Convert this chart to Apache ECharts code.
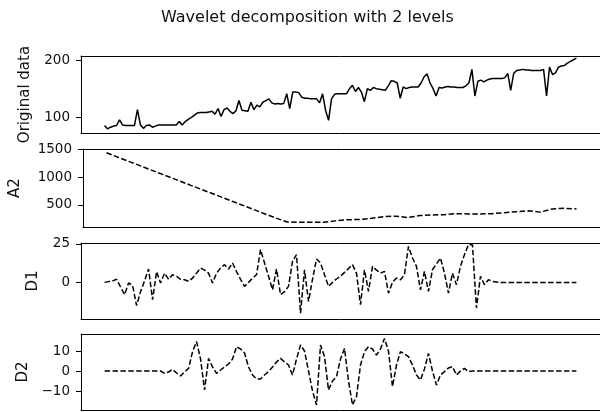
<!DOCTYPE html>
<html>
<head>
<meta charset="utf-8">
<script src="https://cdn.jsdelivr.net/npm/echarts@6/dist/echarts.min.js"></script>
<style>html,body{margin:0;padding:0;background:#fff;}#c{width:600px;height:412px;}</style>
</head>
<body>
<div id="c"></div>
<script>
// ---- Data ----
const titleText = 'Wavelet decomposition with 2 levels';
const panelNames = ['Original data', 'A2', 'D1', 'D2'];

const originalData = [
  85, 79, 82, 84, 85, 95, 86, 85, 85, 85,
  85, 113, 86, 80, 85, 86, 82, 84, 86, 86,
  86, 86, 86, 86, 86, 92, 86, 92, 96, 99,
  103, 107, 108, 108, 108, 109, 110, 105, 115, 101,
  113, 116, 110, 106, 111, 129, 112, 111, 110, 126,
  113, 121, 118, 126, 129, 132, 125, 123, 124, 123,
  124, 141, 115, 144, 144, 143, 135, 133, 133, 132,
  132, 132, 125, 141, 112, 94, 132, 140, 141, 141,
  141, 141, 150, 156, 145, 152, 144, 127, 150, 147,
  152, 150, 149, 148, 147, 155, 164, 163, 160, 133,
  153, 150, 152, 153, 153, 153, 160, 171, 176, 160,
  150, 137, 152, 151, 153, 154, 153, 153, 152, 152,
  152, 155, 160, 184, 137, 163, 165, 162, 165, 167,
  168, 168, 168, 168, 169, 177, 147, 177, 182, 183,
  184, 183, 183, 182, 182, 182, 182, 184, 137, 188,
  175, 178, 188, 190, 191, 195, 198, 201, 204
];

const a2Data = [
  1437, 1353, 1270, 1187, 1103, 1020, 937, 853, 770, 687,
  603, 520, 437, 353, 270, 195, 190, 190, 192, 215,
  235, 240, 262, 290, 300, 275, 310, 320, 325, 345,
  340, 340, 345, 360, 380, 395, 372, 430, 440, 430
];

const d1Data = [
  0, 0.5, 1, 2, -3, -8, -0.4, -2, -15, -6,
  1, 8.7, -11.3, 7, -0.4, 6, 2, 5, 4, 2,
  1.7, 0.7, 2.8, 6, 9.3, 8, 6, -0.4, 6, 9.3,
  11.5, 8.7, 12.6, 7, 2, -2.6, 0, 2.8, 5, 21.3,
  12.6, 4, -4.8, 8.7, -8, -6, -2.6, 13.7, 18, -20,
  8.2, -12.4, 2, 15.2, 12.6, 5, -2.6, 0, 2.2, 4,
  6.5, 9, 11.5, 6, -14.5, 8.2, -5.9, 10.4, 8, 6,
  7.2, -7, 0, 2.8, 1.7, 5, 23.4, 16, 10.4, -4.8,
  7.2, -5.9, 8.2, 12, 15.8, 6, -7, 6, -1.5, 10.4,
  18, 24.5, 24.5, -16.7, 3.9, -1.5, 1.7, 0.6, 0.3, 0,
  0, 0, 0, 0, 0, 0, 0, 0, 0, 0,
  0, 0, 0, 0, 0, 0, 0, 0, 0
];

const d2Data = [
  0, 0, 0, 0, 0, 0, 0, 0, 0, 0,
  0, 0, 0, 0, 0, -1.2, -0.5, 0.8, -1, -2.5,
  -0.5, 1.3, 9.7, 14.7, 6, -9.5, 6.3, 2, -1.2, 0.5,
  2, 3.5, 6, 12.2, 11, 9, 2, -2, -4, -4,
  -2, -0.3, 2, 4.5, 6.3, 4.5, 3, -2, 6, 13,
  10, 0, -10, -17, 13, 7.2, -9.5, -5, -2.8, 6,
  11.3, -5, -17, -12.8, 3, 9.7, 12.2, 11, 8, 11,
  16.3, 10, -7.8, 3, 9.7, 8.5, 7.2, 3, -2, -4.5,
  1, 8.8, 0, -7, -2, -0.3, 1.5, 2.2, -2, 0,
  1.3, -0.3, 0, 0, 0, 0, 0, 0, 0, 0,
  0, 0, 0, 0, 0, 0, 0, 0, 0, 0,
  0, 0, 0, 0, 0, 0, 0, 0, 0
];

const yTicks = [[100, 200], [500, 1000, 1500], [0, 25], [-10, 0, 10]];
const yRanges = [[71.8, 207.6], [105, 1505], [-23.8, 25.6], [-19.5, 18.5]];

// ---- Layout / style ----
const seriesList = [originalData, a2Data, d1Data, d2Data];
const gridTops = [56, 149, 243, 334];
const gridHeights = [77, 78, 76, 76];
const nameGaps = [48, 60, 40, 40];
const FONT = 'DejaVu Sans';
const lineCol = '#000';

const grids = [], xAxes = [], yAxes = [], series = [];
seriesList.forEach((arr, k) => {
  const n = arr.length - 1;
  grids.push({
    left: 81, width: 521, top: gridTops[k], height: gridHeights[k], show: false
  });
  // bottom x axis (frame line)
  xAxes.push({
    type: 'value', gridIndex: k, min: -0.05 * n, max: 1.05 * n, position: 'bottom',
    axisLine: {show: true, onZero: false, lineStyle: {color: lineCol, width: 1}},
    axisTick: {show: false}, axisLabel: {show: false}, splitLine: {show: false}
  });
  // top x axis (frame line)
  xAxes.push({
    type: 'value', gridIndex: k, min: -0.05 * n, max: 1.05 * n, position: 'top',
    axisLine: {show: true, onZero: false, lineStyle: {color: lineCol, width: 1}},
    axisTick: {show: false}, axisLabel: {show: false}, splitLine: {show: false}
  });
  yAxes.push({
    type: 'value', gridIndex: k, min: yRanges[k][0], max: yRanges[k][1], position: 'left',
    name: panelNames[k], nameLocation: 'middle', nameGap: nameGaps[k], nameRotate: 90,
    nameTextStyle: {fontFamily: FONT, fontSize: 15, color: '#111'},
    axisLine: {show: true, onZero: false, lineStyle: {color: lineCol, width: 1}},
    axisTick: {show: true, length: 5, inside: false, customValues: yTicks[k], lineStyle: {color: lineCol, width: 1}},
    axisLabel: {show: true, margin: 11, customValues: yTicks[k], fontFamily: FONT, fontSize: 13.5, color: '#111',
      formatter: v => (v < 0 ? '\u2212' + Math.abs(v) : String(v))},
    splitLine: {show: false}
  });
  series.push({
    type: 'line', xAxisIndex: 2 * k, yAxisIndex: k,
    data: arr.map((v, i) => [i, v]),
    showSymbol: false, symbol: 'none', animation: false,
    lineStyle: {color: lineCol, width: 1.5, type: k === 0 ? 'solid' : [5.5, 2.4]}
  });
});

const chart = echarts.init(document.getElementById('c'), null, {renderer: 'canvas'});
chart.setOption({
  backgroundColor: '#fff',
  animation: false,
  title: {text: titleText, left: 161, top: 10, padding: 0,
    textStyle: {fontFamily: FONT, fontSize: 16, fontWeight: 'normal', color: '#111'}},
  grid: grids, xAxis: xAxes, yAxis: yAxes, series: series
});
</script>
</body>
</html>
